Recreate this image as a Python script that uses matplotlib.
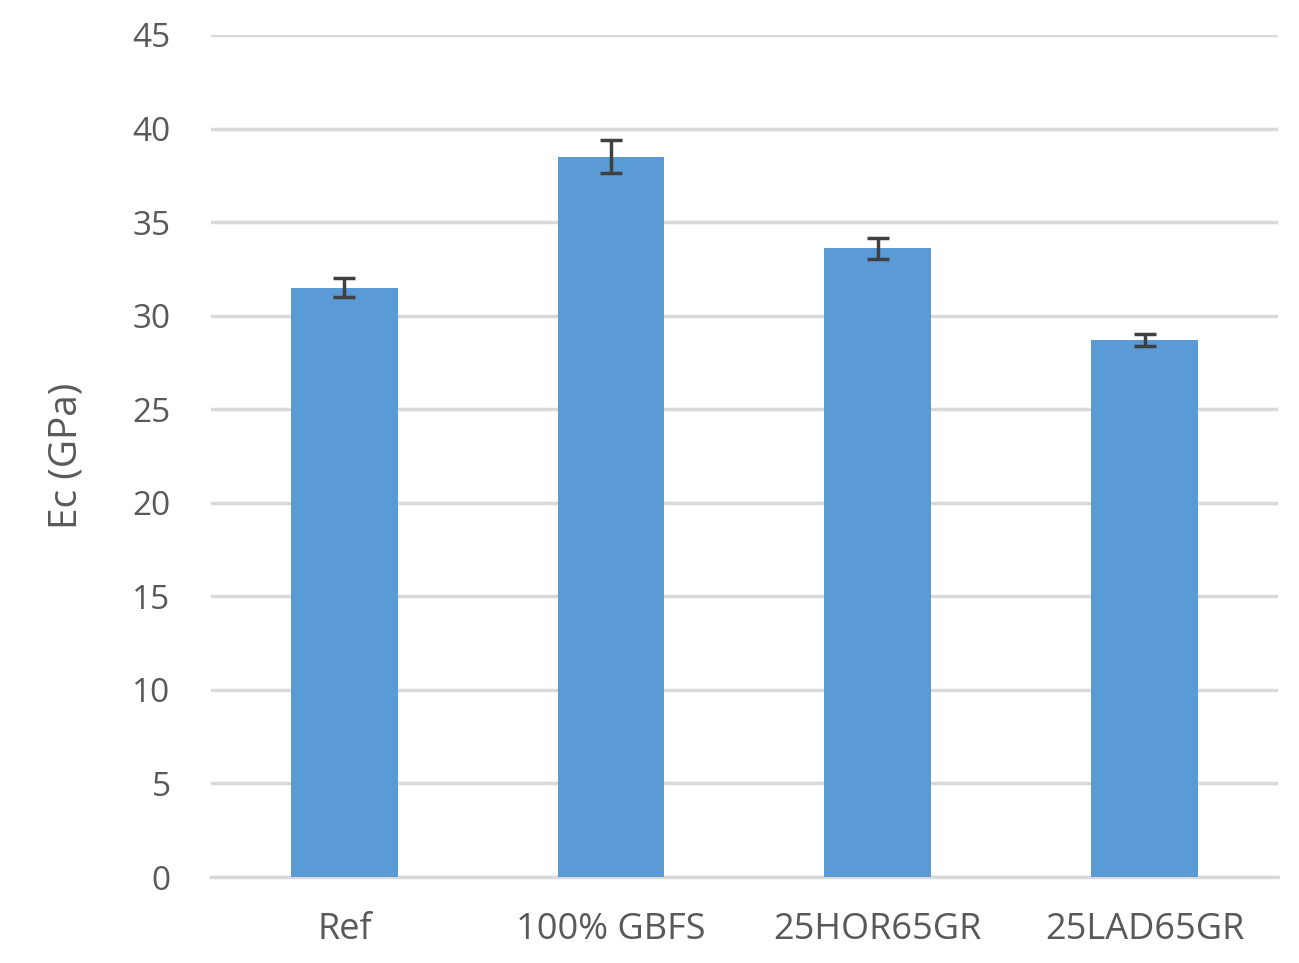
import matplotlib
matplotlib.use("Agg")
import matplotlib.pyplot as plt

categories = ["Ref", "100% GBFS", "25HOR65GR", "25LAD65GR"]
ec_values = [31.5, 38.5, 33.6, 28.7]
ec_errors = [0.5, 0.9, 0.55, 0.3]
y_ticks = [0, 5, 10, 15, 20, 25, 30, 35, 40, 45]

plt.rcParams['font.family'] = ['Open Sans', 'DejaVu Sans']

fig = plt.figure(figsize=(12.99, 9.63), dpi=100)
ax = fig.add_axes([0.1624, 0.0893, 0.8214, 0.8744])

x = range(len(categories))
ax.bar(x, ec_values, width=0.4, color="#5B9BD5", zorder=3,
       yerr=ec_errors, capsize=8,
       error_kw=dict(ecolor="#404040", elinewidth=2.5, capthick=2.5))

ax.set_xlim(-0.5, len(categories) - 0.5)
ax.set_ylim(0, 45)
ax.set_yticks(y_ticks)
ax.set_xticks(list(x))
ax.set_xticklabels(categories)
ax.grid(axis="y", color="#D9D9D9", linewidth=2.5, zorder=0)
ax.set_axisbelow(True)

for side in ["top", "right", "left"]:
    ax.spines[side].set_visible(False)
ax.spines["bottom"].set_color("#D9D9D9")
ax.spines["bottom"].set_linewidth(2.5)

ax.tick_params(axis="both", length=0, colors="#595959")
ax.tick_params(axis="y", labelsize=24, pad=29)
ax.tick_params(axis="x", labelsize=26, pad=25)
ax.set_ylabel("Ec (GPa)", fontsize=28, color="#595959", labelpad=34)

fig.savefig("out.png", dpi=100)
